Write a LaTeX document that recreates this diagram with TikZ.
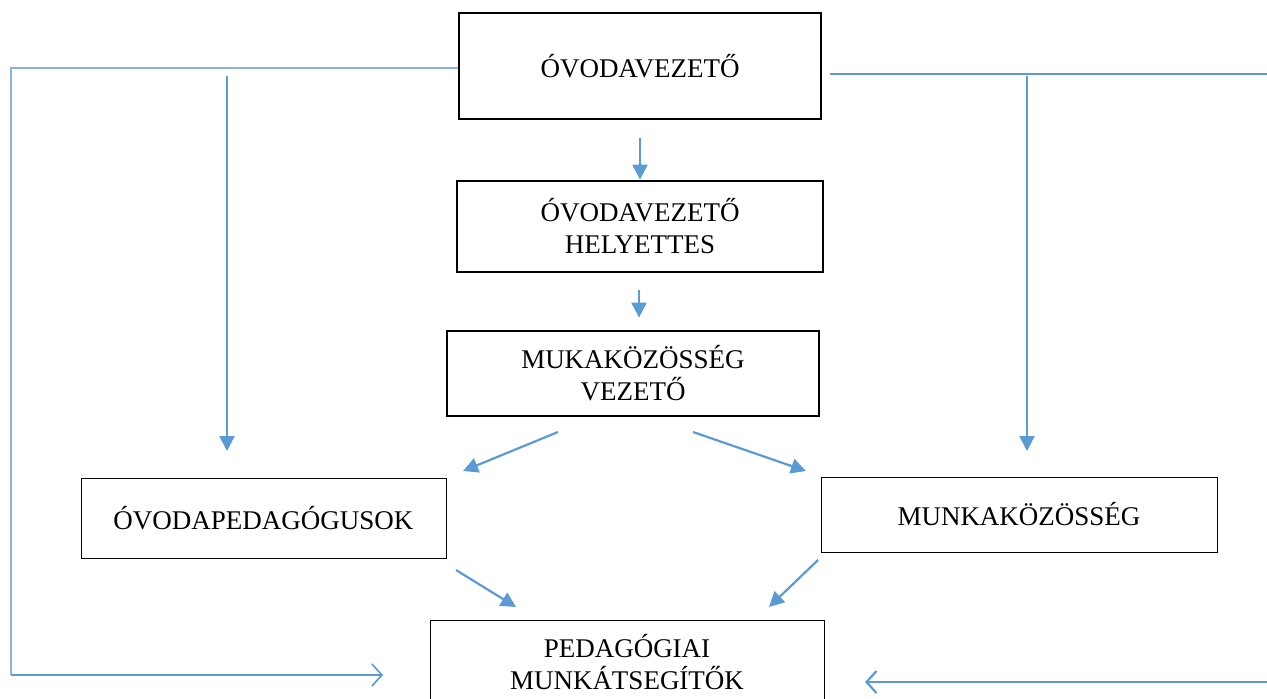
\documentclass[tikz,border=0pt]{standalone}
\usepackage{fontspec}
\setmainfont{Liberation Serif}
\usetikzlibrary{arrows.meta}
\definecolor{arrblue}{HTML}{5B9BD5}
\definecolor{lineblue}{HTML}{8AB4E0}
\begin{document}
\begin{tikzpicture}[x=0.5pt,y=-0.5pt,
  thickbox/.style={draw=black,line width=1.4pt,align=center,inner sep=0pt,font=\fontsize{13.5}{16}\selectfont},
  thinbox/.style={draw=black,line width=0.5pt,align=center,inner sep=0pt,font=\fontsize{13.5}{16}\selectfont},
  arr/.style={draw=arrblue,line width=1.1pt,-{Triangle[length=7.5pt,width=7.5pt]}},
  openarr/.style={draw=arrblue,line width=1.1pt,-{Straight Barb[length=5pt,width=11pt]}},
  plainline/.style={draw=arrblue,line width=1.1pt},
  thinline/.style={draw=lineblue,line width=0.6pt}]
\clip (0,0) rectangle (1267,698);
\useasboundingbox (0,0) rectangle (1267,698);
\node[thickbox,minimum width=181pt,minimum height=53pt] (top) at (640,66) {ÓVODAVEZETŐ};
\node[thickbox,minimum width=183pt,minimum height=45.5pt] (hely) at (640,226.5) {ÓVODAVEZETŐ\\HELYETTES};
\node[thickbox,minimum width=186pt,minimum height=42.5pt] (mkv) at (633,373.5) {MUKAKÖZÖSSÉG\\VEZETŐ};
\node[thinbox,minimum width=182.5pt,minimum height=40pt] (ovp) at (263.5,518) {ÓVODAPEDAGÓGUSOK};
\node[thinbox,minimum width=198pt,minimum height=37.5pt] (mk) at (1019,514.5) {MUNKAKÖZÖSSÉG};
\node[thinbox,minimum width=197pt,minimum height=42pt] (ped) at (627,662) {PEDAGÓGIAI\\MUNKÁTSEGÍTŐK};
% coordinates for free ends
\coordinate (lc1) at (11,68);
\coordinate (lc2) at (11,675);
\coordinate (lend) at (383,675);
\coordinate (rstart) at (830,74);
\coordinate (rend) at (1267,74);
\coordinate (lvs) at (227,76);
\coordinate (lve) at (227,451);
\coordinate (rvs) at (1027,76);
\coordinate (rve) at (1027,451);
\coordinate (brs) at (1267,682);
\coordinate (bre) at (865,682);
% connectors
\draw[thinline] (top.west |- lc1) -- (lc1) -- (lc2);
\draw[thinline,draw=arrblue,line width=0.8pt,-{Straight Barb[length=5pt,width=11pt]}] (lc2) -- (lend);
\draw[plainline] (rstart) -- (rend);
\draw[arr] (lvs) -- (lve);
\draw[arr] (rvs) -- (rve);
\draw[openarr] (brs) -- (bre);
\draw[arr] ([yshift=-9pt]top.south) -- (hely.north);
\draw[arr] ([yshift=-8.5pt]hely.south -| 639,0) -- ([yshift=6pt]mkv.north -| 639,0);
\draw[arr] (558,432) -- (463,471);
\draw[arr] (693,432) -- (806,471);
\draw[arr] (456,570) -- (516,607);
\draw[arr] (818,560) -- (769,607);
\end{tikzpicture}
\end{document}
